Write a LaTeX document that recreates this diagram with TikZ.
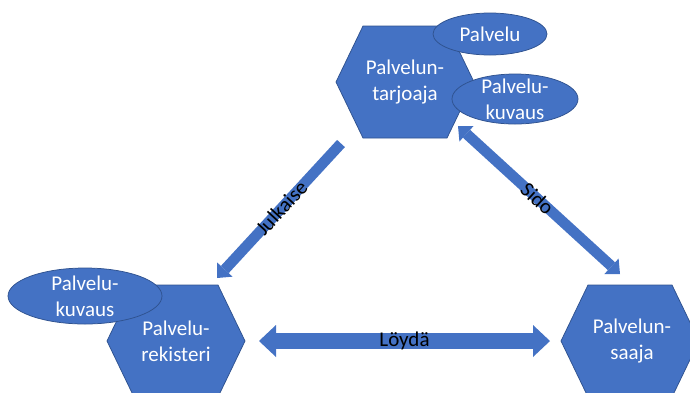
\documentclass[tikz,border=0pt]{standalone}
\usepackage{fontspec}
\setmainfont{Carlito}
\usetikzlibrary{arrows.meta,shapes.geometric}
\definecolor{shapeblue}{HTML}{4472C4}
\definecolor{edgeblue}{HTML}{2F528F}
\begin{document}
\begin{tikzpicture}[x=1pt,y=-1pt,
  every node/.style={font=\fontsize{21}{26}\selectfont, align=center, inner sep=0pt},
  hexshape/.style={fill=shapeblue, draw=edgeblue, line width=0.75pt},
  hexblock/.pic={\draw[hexshape] (-69,0) -- (-42,-56) -- (42,-56) -- (69,0) -- (42,56) -- (-42,56) -- cycle;},
  ellshape/.style={ellipse, fill=shapeblue, draw=edgeblue, line width=0.75pt},
  inlabel/.style={text=white},
  blockarrow/.style={draw=shapeblue, line width=#1},
  arrowlabel/.style={text=black, sloped},
]
\useasboundingbox (0,0) rectangle (690,392);
\clip (0,0) rectangle (690,392);

% roles
\pic at (405,82) {hexblock};
\pic at (176,341) {hexblock};
\pic at (630,341) {hexblock};
\node[inlabel] (provider) at (405,82) {Palvelun-\\tarjoaja};
\node[inlabel] (registry) at (176,341) {Palvelu-\\rekisteri};
\node[inlabel] (requester) at (632,341) {Palvelun-\\saaja};

% artefacts
\node[ellshape, minimum width=114pt, minimum height=42pt] (svc) at (490,34) {};
\node[inlabel] at (svc) {Palvelu};
\node[ellshape, minimum width=126pt, minimum height=50pt] (desctop) at (515,99) {};
\node[inlabel] at (desctop) {Palvelu-\\kuvaus};
\node[ellshape, minimum width=154pt, minimum height=56pt] (descleft) at (85,296) {};
\node[inlabel] at (descleft) {Palvelu-\\kuvaus};

% operations
\coordinate (pubS) at (341,143.5);
\coordinate (pubE) at (217,278);
\draw[blockarrow=10.6pt, -{Triangle[length=11.5pt, width=21pt, line width=0pt]}]
  (pubS) -- node[arrowlabel, pos=0.48] {Julkaise} (pubE);

\coordinate (bindA) at (458,126);
\coordinate (bindB) at (620,274);
\draw[blockarrow=10.6pt, {Triangle[length=11.5pt, width=21pt, line width=0pt]}-{Triangle[length=11.5pt, width=21pt, line width=0pt]}]
  (bindA) -- node[arrowlabel, pos=0.49] {Sido} (bindB);

\coordinate (findA) at (259,341);
\coordinate (findB) at (550,341);
\draw[blockarrow=16pt, {Triangle[length=17pt, width=32pt, line width=0pt]}-{Triangle[length=17pt, width=32pt, line width=0pt]}]
  (findA) -- node[arrowlabel] {Löydä} (findB);
\end{tikzpicture}
\end{document}
